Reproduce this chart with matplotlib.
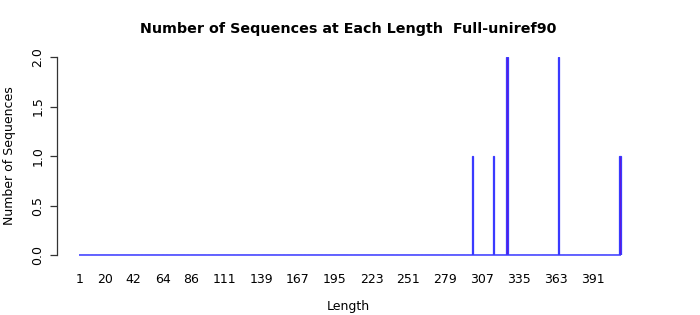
import numpy as np
import matplotlib
matplotlib.use("Agg")
import matplotlib.pyplot as plt

# Lengths that have sequences, and how many
lengths = [300, 316, 326, 365, 412]
counts = [1, 1, 2, 2, 1]
max_length = 412

# Labels shown on the x axis
tick_lengths = [1, 20, 42, 64, 86, 111, 139, 167, 195, 223, 251, 279, 307, 335, 363, 391]

all_lengths = np.arange(1, max_length + 1)
all_counts = np.zeros(max_length)
all_counts[np.array(lengths) - 1] = counts

W, H = 700, 315
fig = plt.figure(figsize=(W / 100, H / 100), dpi=100)
ax = fig.add_axes([57 / W, (H - 255) / H, (640 - 57) / W, (255 - 57) / H])

ax.bar(all_lengths, all_counts, width=0.9, bottom=0, color="#6a10d0",
       edgecolor="#3a3aff", linewidth=0.9)
# zero-height bars leave only their borders: a baseline along the bottom
ax.hlines(0, all_lengths[0] - 0.45, all_lengths[-1] + 0.45, color="#3a3aff",
          linewidth=1.1, clip_on=False)

scale = (620 - 79.7) / (max_length - 1)
ax.set_xlim(1 - (79.7 - 57) / scale, max_length + (640 - 620) / scale)
ax.set_ylim(0, 2)

for s in ["top", "right", "bottom"]:
    ax.spines[s].set_visible(False)
ax.spines["left"].set_bounds(0, 2)
ax.spines["left"].set_color("#333333")
ax.spines["left"].set_linewidth(0.9)

ax.set_yticks([0, 0.5, 1.0, 1.5, 2.0])
ax.set_yticklabels(["0.0", "0.5", "1.0", "1.5", "2.0"], rotation=90, va="center", fontsize=9)
ax.tick_params(axis="y", length=5, width=0.9, color="#333333", pad=4)

ax.set_xticks(tick_lengths)
ax.set_xticklabels([str(t) for t in tick_lengths], fontsize=9)
ax.tick_params(axis="x", length=0, pad=13)

ax.set_xlabel("Length", fontsize=9, labelpad=10)
ax.set_ylabel("Number of Sequences", fontsize=9, labelpad=11)
ax.set_title("Number of Sequences at Each Length  Full-uniref90",
             fontsize=10.3, fontweight="bold", pad=17)

fig.savefig("out.png", dpi=100)
